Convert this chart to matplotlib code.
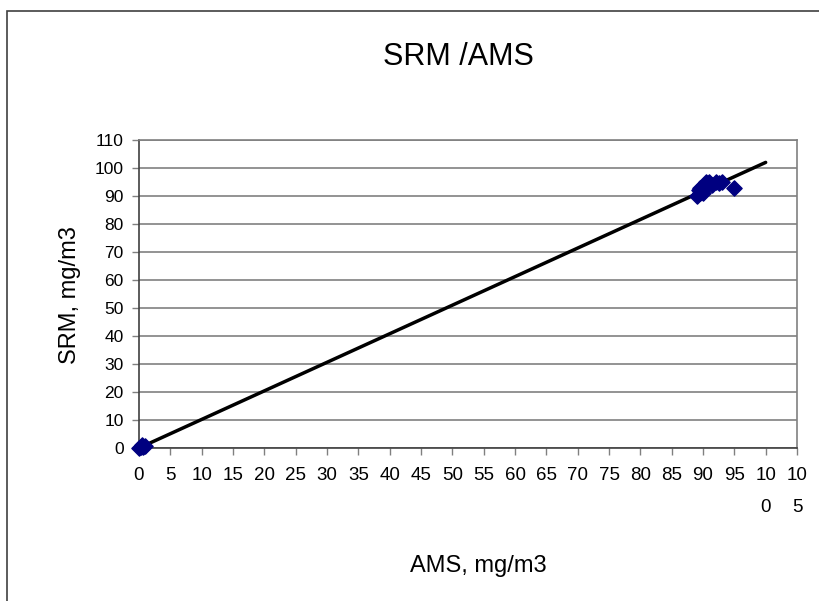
import matplotlib
matplotlib.use("Agg")
import matplotlib.pyplot as plt
from matplotlib.patches import Rectangle

plt.rcParams['font.family'] = ['Liberation Sans', 'DejaVu Sans']

# measured points (AMS, SRM), mg/m3
ams = [0.0, 0.3, 0.6, 1.0, 0.5, 89.0, 89.3, 89.6, 90.0, 90.2, 90.5, 91.0, 91.5, 92.0, 92.5, 93.0, 90.0, 89.5, 95.0]
srm = [0.0, 0.4, 0.2, 0.8, 1.0, 90.0, 92.0, 93.0, 91.0, 94.0, 95.0, 95.0, 94.0, 95.0, 94.5, 95.0, 92.5, 91.0, 93.0]

# trend line
line_x = [0, 100]
line_y = [0, 102]

xticks = list(range(0, 106, 5))
xtick_labels = [str(v) if v < 100 else str(v)[:2] + "\n" + str(v)[2:] for v in xticks]
yticks = list(range(0, 111, 10))

fig = plt.figure(figsize=(8.19, 6.01), dpi=100)
fig.patches.append(Rectangle((7 / 819, -0.05), 1.0, 1 - 11 / 601 + 0.05,
                             transform=fig.transFigure, fill=False,
                             edgecolor='#404040', linewidth=1.2))

ax = fig.add_axes([139 / 819, 1 - 448 / 601, (797 - 139) / 819, (448 - 140) / 601])
ax.set_xlim(0, 105)
ax.set_ylim(0, 110)

for y in yticks:
    ax.axhline(y, color='#808080', linewidth=1.2, zorder=0)

ax.plot(line_x, line_y, color='black', linewidth=2.5, solid_capstyle='round', zorder=2)
ax.scatter(ams, srm, marker='D', s=60, color='#000080', edgecolors='#000080', zorder=3, clip_on=False)

ax.set_xticks(xticks)
ax.set_xticklabels(xtick_labels, fontsize=13.5, va='top', linespacing=2.1)
ax.set_yticks(yticks)
ax.set_yticklabels([str(v) for v in yticks], fontsize=12.5)
ax.tick_params(axis='x', direction='out', length=5, width=1, color='#808080', pad=9)
ax.tick_params(axis='y', direction='out', length=5, width=1, color='#808080', pad=6)

for side in ['top', 'right']:
    ax.spines[side].set_color('#808080')
    ax.spines[side].set_linewidth(1.2)
for side in ['left', 'bottom']:
    ax.spines[side].set_color('#404040')
    ax.spines[side].set_linewidth(1.2)

fig.text(458 / 819, 1 - 57 / 601, "SRM /AMS", fontsize=22, ha='center', va='center')
fig.text(478 / 819, 1 - 566 / 601, "AMS, mg/m3", fontsize=17, ha='center', va='center')
fig.text(70 / 819, 1 - 295 / 601, "SRM, mg/m3", fontsize=17, ha='center', va='center', rotation=90)

fig.savefig("out.png", dpi=100)
